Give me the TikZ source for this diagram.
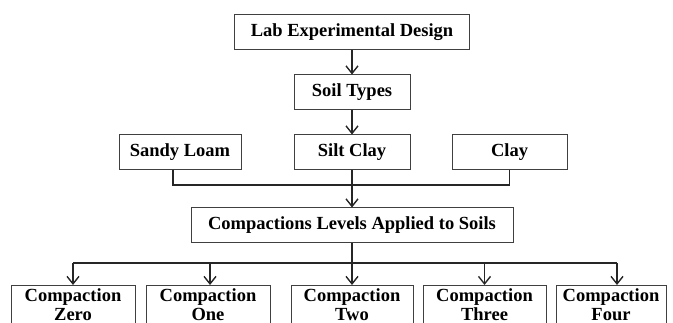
\documentclass[tikz,border=0pt]{standalone}
\usepackage{fontspec}
\setmainfont{Liberation Serif}
\usetikzlibrary{arrows.meta}
\begin{document}
\begin{tikzpicture}[x=1pt,y=-1pt,
  box/.style={draw=black!75, line width=1pt, inner sep=0pt, font=\fontsize{18.5}{19}\selectfont\bfseries, align=center},
  conn/.style={line width=1.4pt, black!85},
  arr/.style={conn, -{Straight Barb[length=7.5pt,width=12pt,line width=1.4pt]}}]
\useasboundingbox (0,0) rectangle (673,323);
\clip (0,0) rectangle (673,323);
\node[box, minimum width=235pt, minimum height=35pt] (lab) at (352,32.5) {Lab Experimental Design};
\node[box, minimum width=116pt, minimum height=35pt] (soil) at (352,92.5) {Soil Types};
\node[box, minimum width=122pt, minimum height=35pt] (sandy) at (180,152.5) {Sandy Loam};
\node[box, minimum width=116pt, minimum height=35pt] (silt) at (352,152.5) {Silt Clay};
\node[box, minimum width=115pt, minimum height=35pt] (clay) at (509.5,152.5) {Clay};
\node[box, minimum width=322pt, minimum height=35pt] (comp) at (352,225.5) {Compactions Levels Applied to Soils};
\node[box, minimum width=124pt, minimum height=39pt, anchor=north] (c0) at (73,285) {Compaction\\Zero};
\node[box, minimum width=124pt, minimum height=39pt, anchor=north] (c1) at (208,285) {Compaction\\One};
\node[box, minimum width=122pt, minimum height=39pt, anchor=north] (c2) at (352,285) {Compaction\\Two};
\node[box, minimum width=123pt, minimum height=39pt, anchor=north] (c3) at (484.5,285) {Compaction\\Three};
\node[box, minimum width=110pt, minimum height=39pt, anchor=north] (c4) at (611,285) {Compaction\\Four};
\coordinate (j1) at (352,185);
\coordinate (j2) at (352,263);
\draw[arr] (lab) -- (soil);
\draw[arr] (soil) -- (silt);
\draw[conn] ([xshift=-7pt]sandy.south) |- (j1);
\draw[conn] (clay.south) |- (j1);
\draw[arr] (silt) -- (comp);
\draw[conn] (comp.south) -- (j2);
\draw[conn] (j2 -| c0) -- ([xshift=6pt]j2 -| c4);
\draw[arr] (j2 -| c0) -- (c0);
\draw[arr] ([xshift=2pt]j2 -| c1) -- ([xshift=2pt]c1.north);
\draw[arr] (j2) -- (c2);
\draw[arr] (j2 -| c3) -- (c3);
\draw[arr] ([xshift=6pt]j2 -| c4) -- ([xshift=6pt]c4.north);
\end{tikzpicture}
\end{document}
